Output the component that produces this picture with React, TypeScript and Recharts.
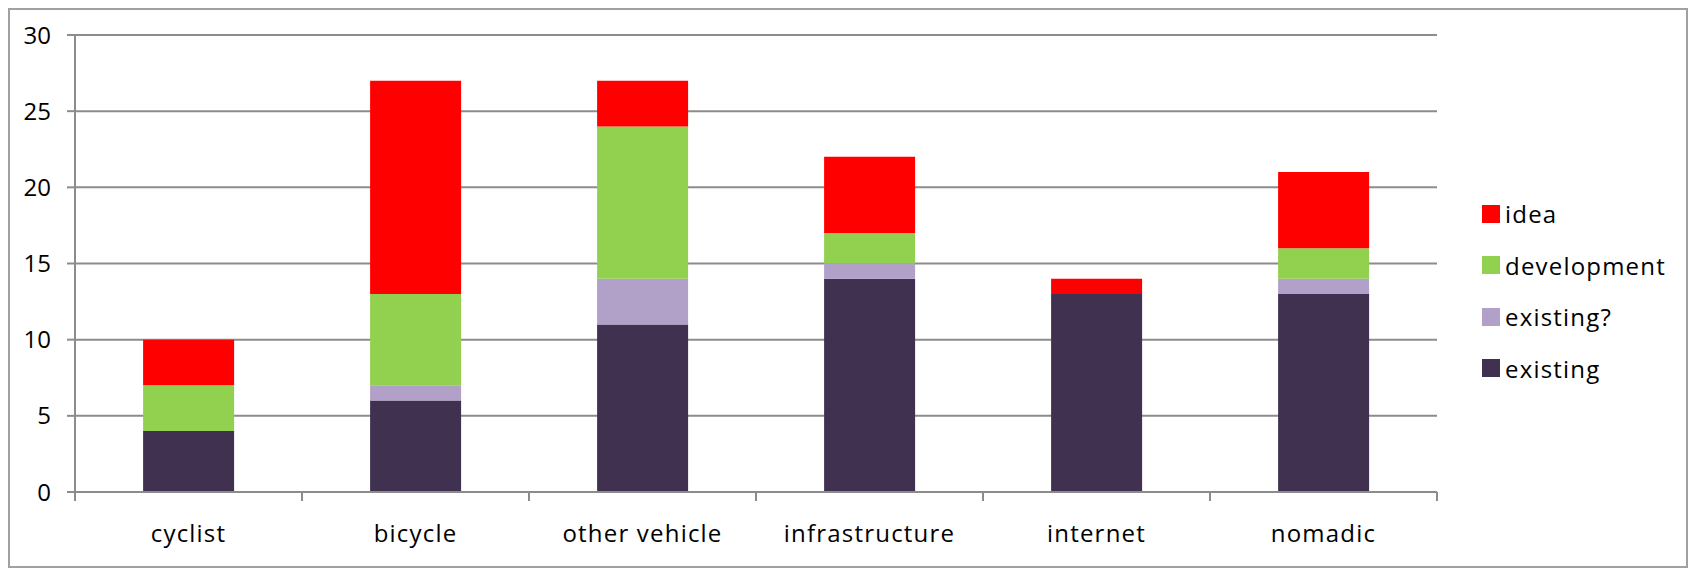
import React from 'react';
import { BarChart, Bar, XAxis, YAxis, CartesianGrid, Legend } from 'recharts';

const categories = ['cyclist', 'bicycle', 'other vehicle', 'infrastructure', 'internet', 'nomadic'];
const existing = [4, 6, 11, 14, 13, 13];
const existingMaybe = [0, 1, 3, 1, 0, 1];
const development = [3, 6, 10, 2, 0, 2];
const idea = [3, 14, 3, 5, 1, 5];
const yTicks = [0, 5, 10, 15, 20, 25, 30];

const series = [
  { key: 'existing', label: 'existing', color: '#403151' },
  { key: 'existingMaybe', label: 'existing?', color: '#B1A0C7' },
  { key: 'development', label: 'development', color: '#92D050' },
  { key: 'idea', label: 'idea', color: '#FF0000' },
];

const data = categories.map((name, i) => ({
  name,
  existing: existing[i],
  existingMaybe: existingMaybe[i],
  development: development[i],
  idea: idea[i],
}));

const FONT = '"Open Sans", sans-serif';
const GRID = '#8c8c8c';
const LABEL_GAP = 33;

const renderLegend = () => (
  <div style={{ fontFamily: FONT, fontSize: 24, color: '#000' }}>
    {[...series].reverse().map(s => (
      <div key={s.key} style={{ height: 51.5, display: 'flex', alignItems: 'center' }}>
        <span style={{ width: 18, height: 18, background: s.color, display: 'inline-block', marginRight: 5 }} />
        <span style={{ letterSpacing: 1.2 }}>{s.label}</span>
      </div>
    ))}
  </div>
);

// category label plus Excel-style tick marks on the category edges
const CategoryTick = (props: any) => {
  const { x, y, payload, width, visibleTicksCount } = props;
  const half = width / visibleTicksCount / 2;
  const axisY = y - LABEL_GAP;
  return (
    <g>
      <line x1={x - half} x2={x - half} y1={axisY} y2={axisY + 9} stroke={GRID} strokeWidth={2} />
      <line x1={x + half} x2={x + half} y1={axisY} y2={axisY + 9} stroke={GRID} strokeWidth={2} />
      <text
        x={x}
        y={y}
        dy="0.71em"
        textAnchor="middle"
        fontSize={24}
        fontFamily={FONT}
        letterSpacing={1.2}
        fill="#000"
      >
        {payload.value}
      </text>
    </g>
  );
};

export default function App() {
  return (
    <div style={{ position: 'absolute', left: 0, top: 0, width: 1690, height: 569, background: '#fff' }}>
      <div
        style={{
          position: 'absolute', left: 8, top: 8, width: 1680, height: 560,
          boxSizing: 'border-box', border: '2px solid #a0a0a0',
        }}
      />
      <div style={{ position: 'absolute', left: 0, top: 0 }}>
        <BarChart
          width={1690}
          height={569}
          data={data}
          margin={{ top: 35, right: 253, left: 0, bottom: 0 }}
          barCategoryGap="30%"
        >
          <CartesianGrid vertical={false} stroke={GRID} strokeWidth={2} />
          <XAxis
            dataKey="name"
            height={77}
            axisLine={{ stroke: GRID, strokeWidth: 2 }}
            tickLine={false}
            tickSize={0}
            tickMargin={LABEL_GAP}
            interval={0}
            tick={<CategoryTick />}
          />
          <YAxis
            width={75}
            domain={[0, 30]}
            ticks={yTicks}
            interval={0}
            tickSize={8}
            tickMargin={16}
            axisLine={{ stroke: GRID, strokeWidth: 2 }}
            tickLine={{ stroke: GRID, strokeWidth: 2 }}
            tick={{ fontSize: 24, fill: '#000', fontFamily: FONT }}
          />
          <Legend
            layout="horizontal"
            align="center"
            verticalAlign="middle"
            content={renderLegend}
            wrapperStyle={{ left: 1482, top: 188, width: 200, height: 210 }}
          />
          {series.map(s => (
            <Bar
              key={s.key}
              dataKey={s.key}
              name={s.label}
              stackId="a"
              fill={s.color}
              isAnimationActive={false}
            />
          ))}
        </BarChart>
      </div>
    </div>
  );
}
